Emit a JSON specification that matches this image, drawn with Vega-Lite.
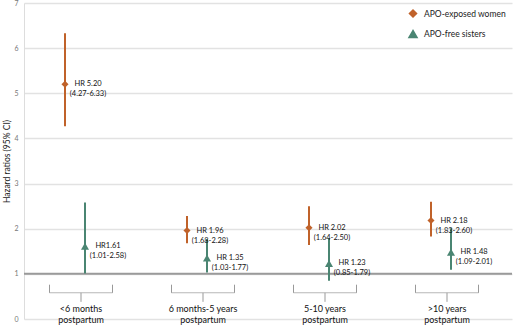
{
  "$schema": "https://vega.github.io/schema/vega-lite/v6.json",
  "width": 488,
  "height": 316,
  "autosize": {"type": "none"},
  "padding": {"left": 24, "top": 3, "right": 8, "bottom": 7},
  "background": "white",
  "config": {"view": {"stroke": null}, "font": "Lato"},
  "datasets": {
    "hr": [
      {"group": "<6 months\npostpartum", "series": "APO-exposed women", "hr": 5.20, "lo": 4.27, "hi": 6.33, "label": "HR 5.20\n(4.27-6.33)"},
      {"group": "<6 months\npostpartum", "series": "APO-free sisters", "hr": 1.61, "lo": 1.01, "hi": 2.58, "label": "HR1.61\n(1.01-2.58)"},
      {"group": "6 months-5 years\npostpartum", "series": "APO-exposed women", "hr": 1.96, "lo": 1.68, "hi": 2.28, "label": "HR 1.96\n(1.68-2.28)"},
      {"group": "6 months-5 years\npostpartum", "series": "APO-free sisters", "hr": 1.35, "lo": 1.03, "hi": 1.77, "label": "HR 1.35\n(1.03-1.77)"},
      {"group": "5-10 years\npostpartum", "series": "APO-exposed women", "hr": 2.02, "lo": 1.64, "hi": 2.50, "label": "HR 2.02\n(1.64-2.50)"},
      {"group": "5-10 years\npostpartum", "series": "APO-free sisters", "hr": 1.23, "lo": 0.85, "hi": 1.79, "label": "HR 1.23\n(0.85-1.79)"},
      {"group": ">10 years\npostpartum", "series": "APO-exposed women", "hr": 2.18, "lo": 1.83, "hi": 2.60, "label": "HR 2.18\n(1.83-2.60)"},
      {"group": ">10 years\npostpartum", "series": "APO-free sisters", "hr": 1.48, "lo": 1.09, "hi": 2.01, "label": "HR 1.48\n(1.09-2.01)"}
    ],
    "groups": [
      {"group": "<6 months\npostpartum"},
      {"group": "6 months-5 years\npostpartum"},
      {"group": "5-10 years\npostpartum"},
      {"group": ">10 years\npostpartum"}
    ],
    "ref": [{"v": 1}]
  },
  "encoding": {
    "x": {
      "field": "group",
      "type": "nominal",
      "sort": null,
      "scale": {"domain": ["<6 months\npostpartum", "6 months-5 years\npostpartum", "5-10 years\npostpartum", ">10 years\npostpartum"], "paddingInner": 0, "paddingOuter": 0},
      "axis": null
    }
  },
  "layer": [
    {
      "data": {"name": "ref"},
      "mark": {"type": "rule", "color": "#9a9a9a", "strokeWidth": 2},
      "encoding": {
        "x": null,
        "y": {"field": "v", "type": "quantitative", "scale": {"domain": [0, 7]},
          "axis": {
            "title": "Hazard ratios (95% CI)",
            "titleFontSize": 8.5,
            "titleFontWeight": "normal",
            "titleColor": "#222",
            "titlePadding": 2,
            "tickCount": 7,
            "ticks": false,
            "labelFontSize": 7,
            "labelColor": "#777",
            "labelPadding": 6,
            "domainColor": "#dddddd",
            "domainWidth": 1,
            "gridColor": "#e2e2e2",
            "gridWidth": 1.5
          }
        }
      }
    },
    {
      "data": {"name": "groups"},
      "mark": {"type": "tick", "orient": "horizontal", "size": 63, "thickness": 1, "color": "#999", "xOffset": -4},
      "encoding": {"y": {"datum": 0.58, "type": "quantitative"}}
    },
    {
      "data": {"name": "groups"},
      "mark": {"type": "rule", "color": "#999", "strokeWidth": 1, "xOffset": -35.5},
      "encoding": {"y": {"datum": 0.58, "type": "quantitative"}, "y2": {"datum": 0.76}}
    },
    {
      "data": {"name": "groups"},
      "mark": {"type": "rule", "color": "#999", "strokeWidth": 1, "xOffset": 27.5},
      "encoding": {"y": {"datum": 0.58, "type": "quantitative"}, "y2": {"datum": 0.76}}
    },
    {
      "data": {"name": "groups"},
      "mark": {"type": "rule", "color": "#999", "strokeWidth": 1, "xOffset": -4},
      "encoding": {"y": {"datum": 0.58, "type": "quantitative"}, "y2": {"datum": 0.38}}
    },
    {
      "data": {"name": "groups"},
      "mark": {"type": "text", "lineBreak": "\n", "fontSize": 9, "color": "#111", "baseline": "top", "lineHeight": 11, "xOffset": -4, "clip": false},
      "encoding": {"y": {"datum": 0.31, "type": "quantitative"}, "text": {"field": "group"}}
    },
    {
      "data": {"name": "hr"},
      "mark": {"type": "rule", "strokeWidth": 2},
      "encoding": {
        "xOffset": {"field": "series", "type": "nominal", "scale": {"type": "point", "range": [41, 61], "padding": 0}},
        "y": {"field": "lo", "type": "quantitative"},
        "y2": {"field": "hi"},
        "color": {"field": "series", "type": "nominal", "scale": {"domain": ["APO-exposed women", "APO-free sisters"], "range": ["#C0622A", "#4A8572"]}, "legend": {
          "title": null, "orient": "top-right", "offset": 0, "labelFontSize": 8.5, "labelColor": "#222", "rowPadding": 6, "symbolSize": 70, "padding": 6, "labelOffset": 6
        }}
      }
    },
    {
      "data": {"name": "hr"},
      "mark": {"type": "point", "filled": true, "opacity": 1},
      "encoding": {
        "xOffset": {"field": "series", "type": "nominal"},
        "y": {"field": "hr", "type": "quantitative"},
        "color": {"field": "series", "type": "nominal"},
        "shape": {"field": "series", "type": "nominal", "scale": {"domain": ["APO-exposed women", "APO-free sisters"], "range": ["diamond", "triangle-up"]}},
        "size": {"field": "series", "type": "nominal", "scale": {"domain": ["APO-exposed women", "APO-free sisters"], "range": [50, 65]}, "legend": null}
      }
    },
    {
      "data": {"name": "hr"},
      "mark": {"type": "text", "lineBreak": "\n", "fontSize": 7.5, "color": "#111", "align": "center", "baseline": "middle", "lineHeight": 10, "dx": 23},
      "encoding": {
        "xOffset": {"field": "series", "type": "nominal"},
        "y": {"field": "hr", "type": "quantitative"},
        "yOffset": {"field": "series", "type": "nominal", "scale": {"type": "point", "range": [1, 5], "padding": 0}},
        "text": {"field": "label"}
      }
    }
  ]
}
